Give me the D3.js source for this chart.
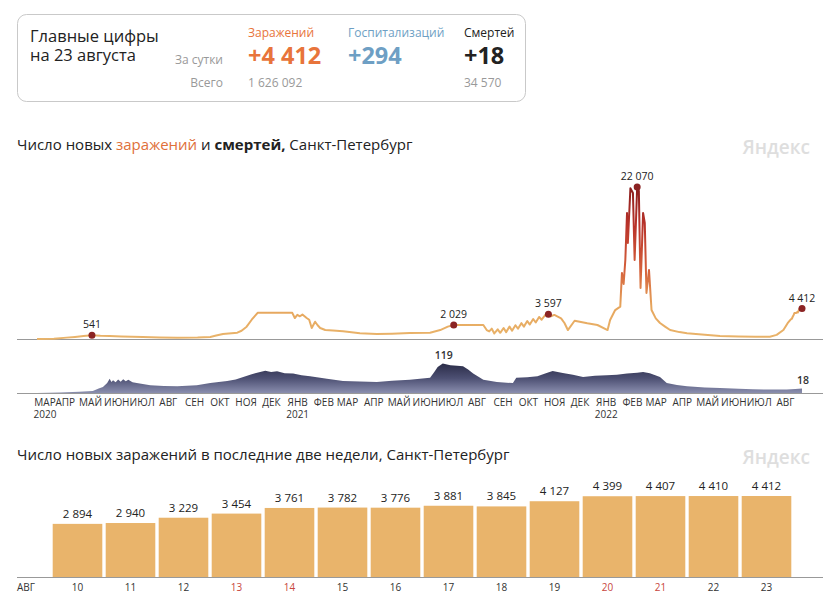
<!DOCTYPE html>
<html>
<head>
<meta charset="utf-8">
<script src="https://cdn.jsdelivr.net/npm/d3@7"></script>
<style>
  body { margin: 0; background: #fff; }
  svg { display: block; font-family: "Open Sans", sans-serif; }
</style>
</head>
<body>
<svg id="chart" width="835" height="610"></svg>
<script>
// summary box
const summaryLabels = ['Заражений', 'Госпитализаций', 'Смертей'];
const summaryDaily = [4412, 294, 18];
const summaryTotal = [1626092, null, 34570];

// daily new cases, St. Petersburg
const caseDates = [
  '2020-03-01','2020-03-21','2020-04-05','2020-04-15','2020-04-25','2020-05-05','2020-05-15','2020-05-26',
  '2020-06-09','2020-07-04','2020-07-24','2020-08-14','2020-09-07','2020-09-22','2020-09-29','2020-10-07',
  '2020-10-24','2020-10-29','2020-11-04','2020-11-10','2020-11-17','2020-12-01','2020-12-16','2020-12-28',
  '2020-12-31','2021-01-03','2021-01-06','2021-01-09','2021-01-14','2021-01-17','2021-01-20','2021-01-24',
  '2021-01-27','2021-01-30','2021-02-05','2021-02-14','2021-02-26','2021-03-18','2021-04-07','2021-04-25',
  '2021-05-16','2021-06-09','2021-06-21','2021-06-30','2021-07-07','2021-07-24','2021-08-11','2021-08-15',
  '2021-08-18','2021-08-21','2021-08-24','2021-08-28','2021-08-31','2021-09-04','2021-09-07','2021-09-11',
  '2021-09-14','2021-09-18','2021-09-21','2021-09-25','2021-09-28','2021-10-02','2021-10-05','2021-10-09',
  '2021-10-12','2021-10-16','2021-10-19','2021-10-23','2021-10-27','2021-10-30','2021-11-03','2021-11-07',
  '2021-11-11','2021-11-15','2021-11-19','2021-11-27','2021-12-12','2021-12-24','2022-01-05','2022-01-08',
  '2022-01-14','2022-01-20','2022-01-22','2022-01-24','2022-01-26','2022-01-28','2022-01-29','2022-02-01',
  '2022-02-04','2022-02-06','2022-02-09','2022-02-11','2022-02-13','2022-02-16','2022-02-18','2022-02-20',
  '2022-02-23','2022-02-26','2022-03-03','2022-03-08','2022-03-14','2022-03-20','2022-03-31','2022-04-09',
  '2022-04-30','2022-05-18','2022-06-09','2022-06-29','2022-07-16','2022-07-24','2022-08-01','2022-08-06',
  '2022-08-10','2022-08-11','2022-08-12','2022-08-13','2022-08-14','2022-08-15','2022-08-16','2022-08-17',
  '2022-08-18','2022-08-19','2022-08-20','2022-08-21','2022-08-22','2022-08-23'
];
const caseValues = [
  5, 20, 200, 300, 420, 541, 470, 435,
  380, 290, 230, 190, 220, 290, 500, 725,
  915, 1200, 1785, 2800, 3800, 3820, 3800, 3800,
  3050, 3500, 3300, 3550, 3050, 2800, 1600, 2510,
  2000, 1600, 1300, 1250, 1120, 830, 725, 780,
  870, 915, 1300, 1800, 2029, 2050, 2030, 1300,
  1100, 1500, 800, 1400, 900, 1600, 1000, 1800,
  1200, 2000, 1500, 2300, 1800, 2600, 2100, 2900,
  2400, 3200, 2800, 3450, 3597, 3300, 3500, 3250,
  3000, 2320, 1300, 2650, 2280, 2030, 1300, 2760,
  4200, 4700, 9580, 8000, 11470, 18300, 13940, 21880,
  21200, 11470, 22070, 21490, 7400, 18300, 16840, 6680,
  10020, 4210, 3000, 2320, 1800, 1300, 1000, 830,
  600, 435, 380, 340, 335, 600, 1300, 2300,
  2894, 2940, 3229, 3454, 3761, 3782, 3776, 3881,
  3845, 4127, 4399, 4407, 4410, 4412
];
const caseMarkDates = ['2020-05-05', '2021-07-07', '2021-10-27', '2022-02-09', '2022-08-23'];
const caseMarkValues = [541, 2029, 3597, 22070, 4412];

// daily deaths
const deathDates = [
  '2020-03-01','2020-03-28','2020-04-20','2020-05-06','2020-05-13','2020-05-18','2020-05-23','2020-05-26',
  '2020-05-28','2020-05-30','2020-06-02','2020-06-05','2020-06-08','2020-06-11','2020-06-14','2020-06-17',
  '2020-06-22','2020-06-27','2020-07-13','2020-07-29','2020-08-14','2020-09-06','2020-09-22','2020-10-12',
  '2020-10-22','2020-10-31','2020-11-10','2020-11-20','2020-11-26','2020-12-03','2020-12-10','2020-12-19',
  '2020-12-29','2021-01-08','2021-01-18','2021-02-07','2021-02-26','2021-03-18','2021-04-07','2021-04-25',
  '2021-05-16','2021-06-09','2021-06-14','2021-06-18','2021-06-24','2021-07-03','2021-07-11','2021-07-18',
  '2021-07-24','2021-07-30','2021-08-11','2021-08-27','2021-09-15','2021-09-19','2021-10-02','2021-10-14',
  '2021-10-24','2021-11-01','2021-11-13','2021-11-25','2021-12-07','2021-12-21','2022-01-04','2022-01-16',
  '2022-01-28','2022-02-09','2022-02-16','2022-02-24','2022-03-08','2022-03-16','2022-03-28','2022-04-09',
  '2022-04-30','2022-05-18','2022-06-09','2022-06-26','2022-07-19','2022-08-05','2022-08-15','2022-08-23'
];
const deathValues = [
  0, 2, 5, 8, 18, 24, 40, 58,
  45, 52, 44, 55, 46, 56, 48, 54,
  44, 40, 31, 28, 27, 31, 40, 49,
  55, 65, 76, 85, 90, 85, 88, 80,
  79, 72, 68, 58, 49, 47, 45, 50,
  54, 62, 85, 105, 119, 112, 110, 108,
  95, 79, 54, 45, 40, 62, 64, 68,
  80, 89, 81, 74, 65, 70, 72, 74,
  79, 82, 85, 80, 65, 40, 32, 27,
  22, 20, 17, 15, 14, 14, 16, 18
];
const deathMarkDates = ['2021-06-24', '2022-08-23'];
const deathMarkValues = [119, 18];

// last two weeks
const barDays = [10, 11, 12, 13, 14, 15, 16, 17, 18, 19, 20, 21, 22, 23];
const barValues = [2894, 2940, 3229, 3454, 3761, 3782, 3776, 3881, 3845, 4127, 4399, 4407, 4410, 4412];
const weekendDays = [13, 14, 20, 21];
const monthNames = ['ЯНВ', 'ФЕВ', 'МАР', 'АПР', 'МАЙ', 'ИЮН', 'ИЮЛ', 'АВГ', 'СЕН', 'ОКТ', 'НОЯ', 'ДЕК'];

const parse = d3.timeParse('%Y-%m-%d');
const fmt = d3.formatLocale({ decimal: ',', thousands: '\u00a0', grouping: [3], currency: ['', ''] }).format(',d');
const svg = d3.select('#chart');

// ---- summary box ----
svg.append('rect')
  .attr('x', 17.5).attr('y', 14.5).attr('width', 508).attr('height', 87)
  .attr('rx', 9).attr('fill', '#fff').attr('stroke', '#c9c9c9');

svg.append('text').attr('x', 30).attr('y', 42).attr('font-size', 16.5).attr('fill', '#222').text('Главные цифры');
svg.append('text').attr('x', 30).attr('y', 61).attr('font-size', 16.5).attr('fill', '#222').text('на 23 августа');
svg.append('text').attr('x', 223).attr('y', 64).attr('text-anchor', 'end')
  .attr('font-size', 12).attr('fill', '#999').text('За сутки');
svg.append('text').attr('x', 223).attr('y', 87).attr('text-anchor', 'end')
  .attr('font-size', 12).attr('fill', '#999').text('Всего');

const summaryX = d3.scaleOrdinal().domain(summaryLabels).range([248, 348, 464]);
const summaryColor = d3.scaleOrdinal().domain(summaryLabels).range(['#e8743b', '#6e9fc4', '#222']);

summaryLabels.forEach((lab, i) => {
  const g = svg.append('g').attr('transform', `translate(${summaryX(lab)},0)`);
  g.append('text').attr('y', 37).attr('font-size', 12)
    .attr('fill', summaryColor(lab)).text(lab);
  g.append('text').attr('y', 64).attr('font-size', 23.5).attr('font-weight', 700)
    .attr('fill', summaryColor(lab)).text('+' + fmt(summaryDaily[i]));
  if (summaryTotal[i] != null) {
    g.append('text').attr('y', 87).attr('font-size', 12).attr('fill', '#999').text(fmt(summaryTotal[i]));
  }
});

// ---- main chart ----
const title1 = svg.append('text').attr('x', 17).attr('y', 150).attr('font-size', 15).attr('fill', '#222');
title1.append('tspan').text('Число новых ');
title1.append('tspan').attr('fill', '#e0703a').text('заражений');
title1.append('tspan').text(' и ');
title1.append('tspan').attr('font-weight', 700).text('смертей,');
title1.append('tspan').text(' Санкт-Петербург');

svg.append('text').attr('x', 810).attr('y', 154).attr('text-anchor', 'end')
  .attr('font-size', 19).attr('font-weight', 600).attr('fill', '#dedede').text('Яндекс');

const x = d3.scaleTime()
  .domain([parse('2020-03-01'), parse('2022-08-23')])
  .range([37, 802]);
const yCases = d3.scaleLinear().domain([0, 22070]).range([339, 187]);
const yDeaths = d3.scaleLinear().domain([0, 119]).range([393, 363.6]);

const cases = caseDates.map((d, i) => ({ date: parse(d), value: caseValues[i] }));
const deaths = deathDates.map((d, i) => ({ date: parse(d), value: deathValues[i] }));

const defs = svg.append('defs');
const lg = defs.append('linearGradient').attr('id', 'caseGrad')
  .attr('gradientUnits', 'userSpaceOnUse')
  .attr('x1', 0).attr('x2', 0).attr('y1', yCases(0)).attr('y2', yCases(22070));
[[0, '#e9b46b'], [0.22, '#e6a55c'], [0.45, '#d5613b'], [0.75, '#b9332a'], [1, '#8a1f1f']]
  .forEach(([o, c]) => lg.append('stop').attr('offset', o).attr('stop-color', c));

const dg = defs.append('linearGradient').attr('id', 'deathGrad')
  .attr('gradientUnits', 'userSpaceOnUse')
  .attr('x1', 0).attr('x2', 0).attr('y1', yDeaths(119)).attr('y2', yDeaths(0));
[[0, '#2a2c48'], [0.5, '#4d5073'], [1, '#8a8eae']]
  .forEach(([o, c]) => dg.append('stop').attr('offset', o).attr('stop-color', c));

// axes baselines
svg.append('line').attr('x1', 17).attr('x2', 823).attr('y1', 339.5).attr('y2', 339.5).attr('stroke', '#999');

svg.append('path')
  .datum(cases)
  .attr('fill', 'none')
  .attr('stroke', 'url(#caseGrad)')
  .attr('stroke-width', 2)
  .attr('stroke-linejoin', 'round')
  .attr('d', d3.line().x(d => x(d.date)).y(d => yCases(d.value)));

svg.append('path')
  .datum(deaths)
  .attr('fill', 'url(#deathGrad)')
  .attr('d', d3.area().x(d => x(d.date)).y0(yDeaths(0)).y1(d => yDeaths(d.value)));

svg.append('line').attr('x1', 17).attr('x2', 823).attr('y1', 393.5).attr('y2', 393.5).attr('stroke', '#999');

caseMarkDates.forEach((d, i) => {
  const cx = x(parse(d)), cy = yCases(caseMarkValues[i]);
  svg.append('circle').attr('cx', cx).attr('cy', cy).attr('r', 3.5).attr('fill', '#8b2323');
  svg.append('text').attr('x', cx).attr('y', cy - 7).attr('text-anchor', 'middle')
    .attr('font-size', 10.5).attr('fill', '#222').text(fmt(caseMarkValues[i]));
});

deathMarkDates.forEach((d, i) => {
  const cx = x(parse(d)), cy = yDeaths(deathMarkValues[i]);
  svg.append('text').attr('x', cx + 1).attr('y', cy - 5).attr('text-anchor', 'middle')
    .attr('font-size', 10.5).attr('font-weight', 600).attr('fill', '#333').text(fmt(deathMarkValues[i]));
});

// month ticks
const months = d3.timeMonth.range(parse('2020-03-01'), parse('2022-08-24'));
const monthG = svg.append('g').attr('font-size', 10).attr('fill', '#333').attr('text-anchor', 'middle');
months.forEach((m, i) => {
  const mx = x(m) + (i === 0 ? 8 : 2);
  monthG.append('text').attr('x', mx).attr('y', 405.5).text(monthNames[m.getMonth()]);
  if (i === 0 || m.getMonth() === 0) {
    monthG.append('text').attr('x', mx).attr('y', 418).text(m.getFullYear());
  }
});

// ---- two-week bars ----
svg.append('text').attr('x', 17).attr('y', 460).attr('font-size', 15).attr('fill', '#222')
  .text('Число новых заражений в последние две недели, Санкт-Петербург');
svg.append('text').attr('x', 810).attr('y', 464).attr('text-anchor', 'end')
  .attr('font-size', 19).attr('font-weight', 600).attr('fill', '#dedede').text('Яндекс');

const xb = d3.scaleBand().domain(barDays).range([51, 793]).paddingInner(0.064).paddingOuter(0.032);
const yb = d3.scaleLinear().domain([0, 4412]).range([577, 496]);

svg.append('g').selectAll('rect')
  .data(barDays)
  .join('rect')
  .attr('x', d => xb(d))
  .attr('width', xb.bandwidth())
  .attr('y', (d, i) => yb(barValues[i]))
  .attr('height', (d, i) => yb(0) - yb(barValues[i]))
  .attr('fill', '#e9b46b');

svg.append('g').selectAll('text')
  .data(barDays)
  .join('text')
  .attr('x', d => xb(d) + xb.bandwidth() / 2)
  .attr('y', (d, i) => yb(barValues[i]) - 6)
  .attr('text-anchor', 'middle')
  .attr('font-size', 11.5)
  .attr('fill', '#222')
  .text((d, i) => fmt(barValues[i]));

svg.append('line').attr('x1', 17).attr('x2', 823).attr('y1', 577.5).attr('y2', 577.5).attr('stroke', '#999');

svg.append('g').selectAll('text')
  .data(barDays)
  .join('text')
  .attr('x', d => xb(d) + xb.bandwidth() / 2)
  .attr('y', 591)
  .attr('text-anchor', 'middle')
  .attr('font-size', 10)
  .attr('fill', d => weekendDays.includes(d) ? '#c8473d' : '#333')
  .text(d => d);

svg.append('text').attr('x', 17).attr('y', 591).attr('font-size', 10).attr('fill', '#333').text('АВГ');
</script>
</body>
</html>
